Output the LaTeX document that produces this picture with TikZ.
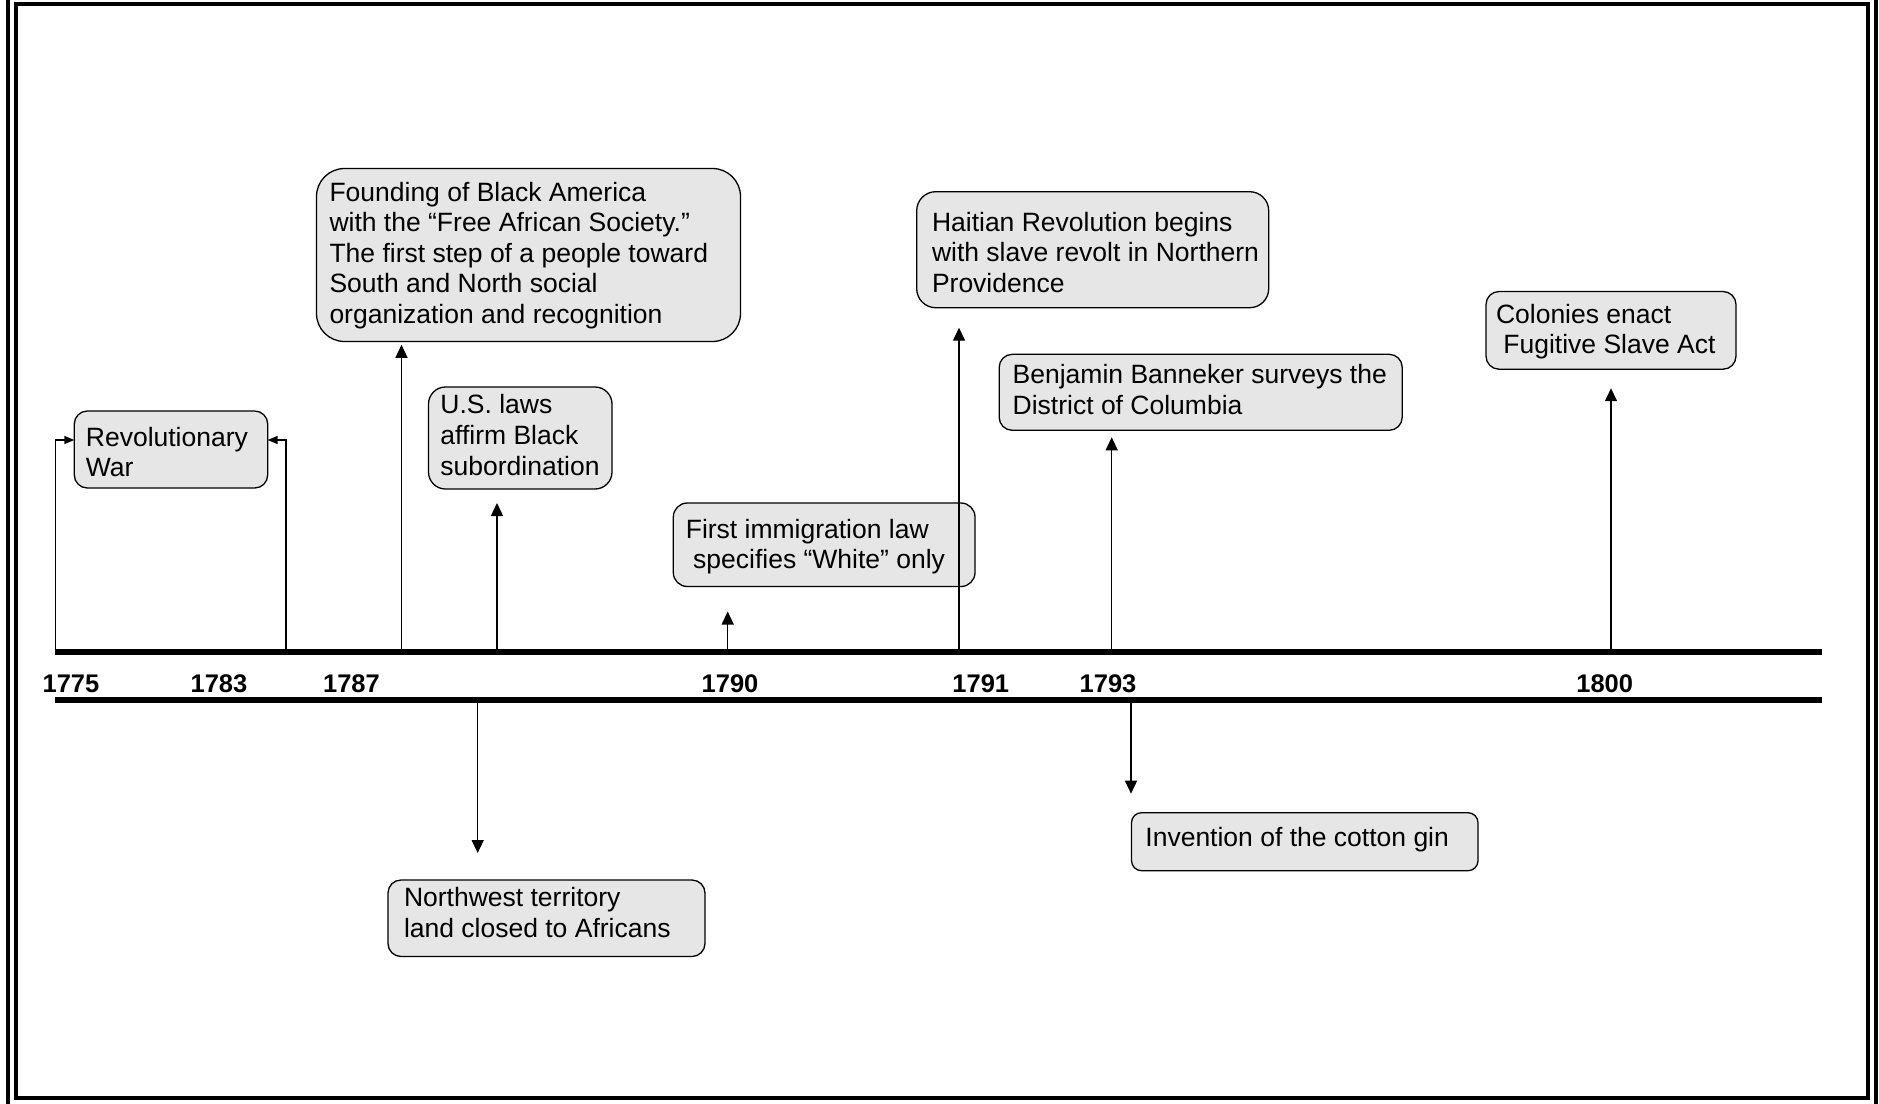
\documentclass[tikz,border=0pt]{standalone}
\usepackage{fontspec}
\setmainfont{Liberation Sans}
\usetikzlibrary{arrows.meta}
\definecolor{boxgray}{RGB}{230,230,230}
\newcommand{\lead}{\hspace*{0.278em}}
\begin{document}
\begin{tikzpicture}[x=1pt,y=-1pt,
  frame/.style={line width=4pt},
  axisline/.style={line width=5.2pt},
  evbox/.style={draw, fill=boxgray, line width=1.3pt, rectangle, inner sep=0pt, outer sep=0pt, anchor=north west},
  evtext/.style={inner sep=0pt, outer sep=0pt, anchor=west, align=left, font=\fontsize{26.5}{30.6}\selectfont},
  year/.style={inner sep=0pt, anchor=base, font=\fontsize{25.5}{30}\selectfont\bfseries},
  evarrow/.style={line width=1.4pt, -{Triangle[length=13pt,width=12pt]}},
  sidearrow/.style={line width=1.4pt, -{Triangle[length=10pt,width=8pt]}},
]
\useasboundingbox (0,0) rectangle (1879,1103);
\clip (0,0) rectangle (1879,1103);

% double frame
\draw[frame] (8,-4) rectangle (1876,1106);
\draw[frame] (16,4) rectangle (1868,1098);

% event boxes
\node[evbox, minimum width=193.4pt, minimum height=77pt, rounded corners=13pt] (rev) at (74.3,411) {};
\node[evbox, minimum width=424pt, minimum height=173pt, rounded corners=28pt] (found) at (316.5,168.5) {};
\node[evbox, minimum width=183.5pt, minimum height=102pt, rounded corners=17pt] (laws) at (428.5,387) {};
\node[evbox, minimum width=301.7pt, minimum height=83.5pt, rounded corners=14pt] (immig) at (673.3,503) {};
\node[evbox, minimum width=352pt, minimum height=116pt, rounded corners=19pt] (haiti) at (916.7,191.7) {};
\node[evbox, minimum width=403pt, minimum height=76pt, rounded corners=13pt] (benj) at (999.2,354.3) {};
\node[evbox, minimum width=250pt, minimum height=77.7pt, rounded corners=13pt] (col) at (1486,291.5) {};
\node[evbox, minimum width=317pt, minimum height=76.5pt, rounded corners=13pt] (nw) at (388,880) {};
\node[evbox, minimum width=346.5pt, minimum height=58pt, rounded corners=10pt] (gin) at (1131.5,812.7) {};

% box texts
\node[evtext] (revT) at ([xshift=11.6pt,yshift=-2.4pt]rev.west) {Revolutionary\\War};
\node[evtext] (foundT) at ([xshift=13pt,yshift=-0.5pt]found.west) {Founding of Black America\\with the “Free African Society.”\\The first step of a people toward\\South and North social\\organization and recognition};
\node[evtext] (lawsT) at ([xshift=11.9pt,yshift=3pt]laws.west) {U.S. laws\\affirm Black\\subordination};
\node[evtext] (immigT) at ([xshift=12.5pt,yshift=-1.8pt]immig.west) {First immigration law\\\lead specifies “White” only};
\node[evtext] (haitiT) at ([xshift=15.3pt,yshift=-2.8pt]haiti.west) {Haitian Revolution begins\\with slave revolt in Northern\\Providence};
\node[evtext] (benjT) at ([xshift=13.5pt,yshift=3pt]benj.west) {Benjamin Banneker surveys the\\District of Columbia};
\node[evtext] (colT) at ([xshift=10pt,yshift=-1.2pt]col.west) {Colonies enact\\\lead Fugitive Slave Act};
\node[evtext] (nwT) at ([xshift=16pt,yshift=6pt]nw.west) {Northwest territory\\land closed to Africans};
\node[evtext] (ginT) at ([xshift=13.9pt,yshift=2.4pt]gin.west) {Invention of the cotton gin};

% time axis
\coordinate (axL) at (55,652);
\coordinate (axR) at (1822,652);
\coordinate (bxL) at (55,700);
\coordinate (bxR) at (1822,700);
\draw[axisline] (axL) -- (axR);
\draw[axisline] (bxL) -- (bxR);

% years
\node[year] (y1775) at (71,692) {1775};
\node[year] (y1783) at (219,692) {1783};
\node[year] (y1787) at (351.5,692) {1787};
\node[year] (y1790) at (730,692) {1790};
\node[year] (y1791) at (980.8,692) {1791};
\node[year] (y1793) at (1108,692) {1793};
\node[year] (y1800) at (1604.7,692) {1800};

% connector roots on the axis
\coordinate (e1775) at (55.7,652);
\coordinate (e1783) at (286,652);
\coordinate (e1787) at (401.5,652);
\coordinate (eLaws) at (497,652);
\coordinate (eNW) at (477.7,700);
\coordinate (e1790) at (727.7,652);
\coordinate (e1791) at (959,652);
\coordinate (e1793) at (1111.7,652);
\coordinate (eGin) at (1131,700);
\coordinate (e1800) at (1611,652);

% connectors
\draw[sidearrow] (e1775) |- ([yshift=9.5pt]rev.west);
\draw[sidearrow] (e1783) |- ([yshift=9.5pt]rev.east);
\draw[evarrow, shorten >=3.3pt] (e1787) -- (e1787 |- found.south);
\draw[evarrow, shorten >=14pt] (eLaws) -- (eLaws |- laws.south);
\draw[evarrow, shorten >=27pt] (eNW) -- (eNW |- nw.north);
\draw[evarrow, shorten >=25pt] (e1790) -- (e1790 |- immig.south);
\draw[evarrow, shorten >=20pt] (e1791) -- (e1791 |- haiti.south);
\draw[evarrow, shorten >=7pt] (e1793) -- (e1793 |- benj.south);
\draw[evarrow, shorten >=19pt] (eGin) -- (eGin |- gin.north);
\draw[evarrow, shorten >=19pt] (e1800) -- (e1800 |- col.south);
\end{tikzpicture}
\end{document}
